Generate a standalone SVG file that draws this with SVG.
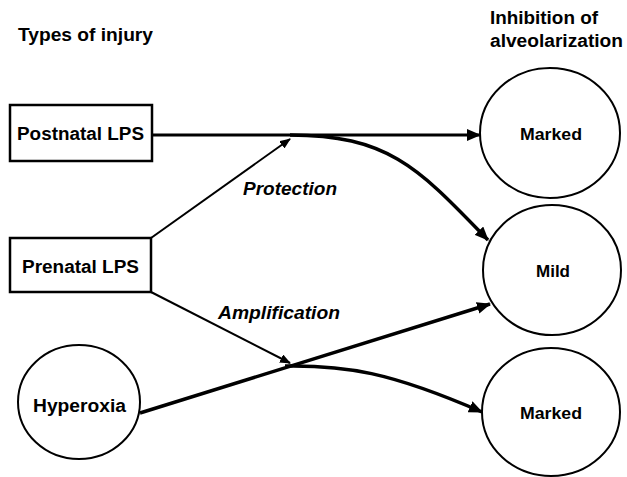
<svg xmlns="http://www.w3.org/2000/svg" width="627" height="477" viewBox="0 0 627 477">
<style>
text{font-family:"Liberation Sans",Arial,sans-serif;font-weight:bold;fill:#000}
.hdr{font-size:18px}
.lbl{font-size:18px}
.sm{font-size:17px}
.it{font-size:18px;font-style:italic}
.box{fill:#fff;stroke:#000;stroke-width:2.5}
.circ{fill:#fff;stroke:#000;stroke-width:2}
.thick{fill:none;stroke:#000;stroke-width:3.5}
.thin{fill:none;stroke:#000;stroke-width:2}
</style>
<defs>
<marker id="ah" markerUnits="userSpaceOnUse" viewBox="0 0 14 12" refX="13" refY="6" markerWidth="14" markerHeight="12" orient="auto">
<path d="M0,0 L14,6 L0,12 Z" fill="#000"/>
</marker>
<marker id="ahs" markerUnits="userSpaceOnUse" viewBox="0 0 11 9" refX="10" refY="4.5" markerWidth="11" markerHeight="9" orient="auto">
<path d="M0,0 L11,4.5 L0,9 Z" fill="#000"/>
</marker>
</defs>
<rect width="627" height="477" fill="#fff"/>
<text class="hdr" x="18" y="41" textLength="135" lengthAdjust="spacingAndGlyphs">Types of injury</text>
<text class="hdr" x="490" y="24" textLength="108" lengthAdjust="spacingAndGlyphs">Inhibition of</text>
<text class="hdr" x="490" y="47" textLength="133" lengthAdjust="spacingAndGlyphs">alveolarization</text>
<g id="connectors">
<path class="thick" d="M152,135 L480,135" marker-end="url(#ah)" style="stroke-width:3"/>
<path class="thick" d="M290,135 C390,135 420,170 488,240" marker-end="url(#ah)"/>
<path class="thin" d="M151,238 L290,139" marker-end="url(#ahs)"/>
<path class="thin" d="M151,292 L290,363" marker-end="url(#ahs)"/>
<path class="thick" d="M140,413 L490,304" marker-end="url(#ah)"/>
<path class="thick" d="M285,366 C345,365 390,372 482,412" marker-end="url(#ah)"/>
</g>
<text class="it" x="243" y="195" textLength="94" lengthAdjust="spacingAndGlyphs">Protection</text>
<text class="it" x="218" y="319" textLength="122" lengthAdjust="spacingAndGlyphs">Amplification</text>
<g id="postnatal">
<rect class="box" x="10" y="105" width="142" height="56"/>
<text class="lbl" x="17" y="140" textLength="127" lengthAdjust="spacingAndGlyphs">Postnatal LPS</text>
</g>
<g id="prenatal">
<rect class="box" x="10" y="238" width="141" height="54"/>
<text class="lbl" x="22" y="273" textLength="117" lengthAdjust="spacingAndGlyphs">Prenatal LPS</text>
</g>
<g id="hyperoxia">
<ellipse class="circ" cx="79" cy="402" rx="61" ry="57"/>
<text class="lbl" x="33" y="412" textLength="93" lengthAdjust="spacingAndGlyphs">Hyperoxia</text>
</g>
<g id="marked1">
<ellipse class="circ" cx="550" cy="133" rx="70" ry="65"/>
<text class="sm" x="520" y="140" textLength="62" lengthAdjust="spacingAndGlyphs">Marked</text>
</g>
<g id="mild">
<ellipse class="circ" cx="552" cy="270" rx="69" ry="65"/>
<text class="sm" x="536" y="277" textLength="34" lengthAdjust="spacingAndGlyphs">Mild</text>
</g>
<g id="marked2">
<ellipse class="circ" cx="551" cy="412" rx="69" ry="64"/>
<text class="sm" x="520" y="419" textLength="62" lengthAdjust="spacingAndGlyphs">Marked</text>
</g>
</svg>
